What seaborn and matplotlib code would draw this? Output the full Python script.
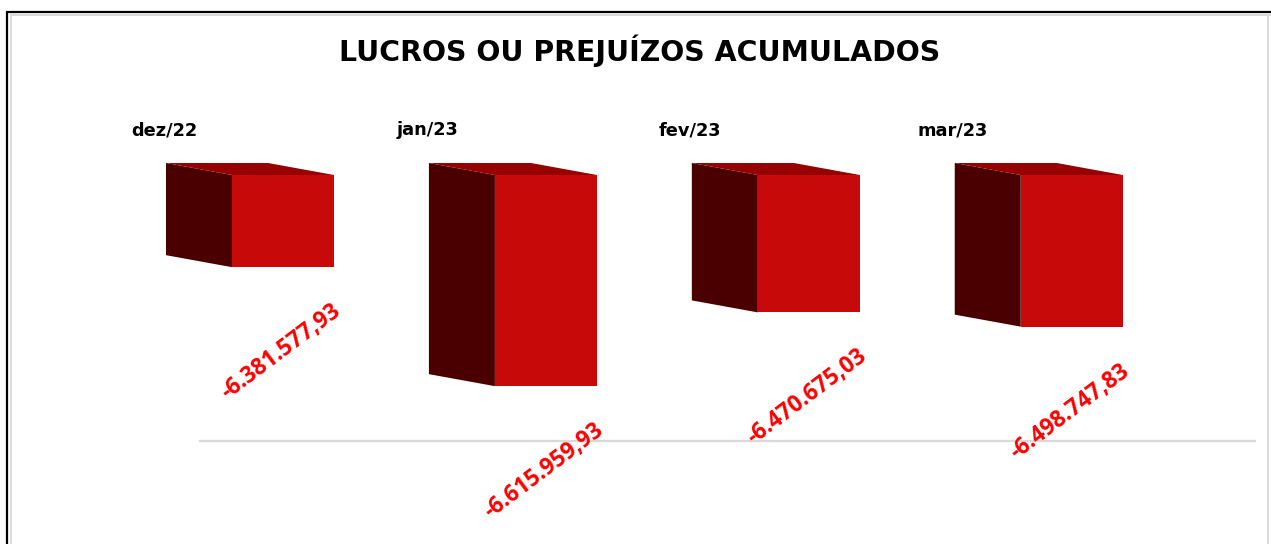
import numpy as np
import pandas as pd
import seaborn as sns
import matplotlib
matplotlib.use("Agg")
import matplotlib.pyplot as plt
from matplotlib.patches import Polygon
from matplotlib.lines import Line2D
from matplotlib.transforms import IdentityTransform, blended_transform_factory

# ---- data ----
categories = ["dez/22", "jan/23", "fev/23", "mar/23"]
values = [-6381577.93, -6615959.93, -6470675.03, -6498747.83]
title = "LUCROS OU PREJUÍZOS ACUMULADOS"
axis_top = -6200000
axis_bottom = -6724000


def br_fmt(v):
    s = f"{v:,.2f}"
    return s.replace(",", "X").replace(".", ",").replace("X", ".")


value_labels = [br_fmt(v) for v in values]

# ---- style ----
sns.set_theme(style="white")
plt.rcParams["font.family"] = ["DejaVu Sans"]

FRONT = "#C70909"
SIDE = "#4B0000"
TOP = "#960000"

W, H = 1271, 544
fig = plt.figure(figsize=(W / 100, H / 100), dpi=100)
fig.patch.set_facecolor("white")

ax = fig.add_axes([200 / W, (H - 441) / H, 1055 / W, 266 / H])
df = pd.DataFrame({"mes": categories, "valor": values})
sns.barplot(data=df, x="mes", y="valor", color=FRONT, saturation=1,
            width=0.388, ax=ax, edgecolor="none", linewidth=0)

ax.set_xlim(-0.3157, 3.697)
ax.set_ylim(axis_bottom, axis_top)
ax.set_xticks([])
ax.set_yticks([])
ax.set_xlabel("")
ax.set_ylabel("")
for s in ["top", "left", "right"]:
    ax.spines[s].set_visible(False)
ax.spines["bottom"].set_color("#D9D9D9")
ax.spines["bottom"].set_linewidth(1.6)
ax.set_facecolor("none")

# ---- pseudo-3D faces ----
depth = np.array([-66.0, 12.0])
for p in ax.patches:
    x0 = p.get_x()
    w = p.get_width()
    val = p.get_y() + p.get_height()
    TL = ax.transData.transform((x0, axis_top))
    TR = ax.transData.transform((x0 + w, axis_top))
    BL = ax.transData.transform((x0, val))
    side = [TL, TL + depth, BL + depth, BL]
    top = [TL, TL + depth, TR + depth, TR]
    fig.add_artist(Polygon(side, closed=True, transform=IdentityTransform(),
                           facecolor=SIDE, edgecolor="none", zorder=3))
    fig.add_artist(Polygon(top, closed=True, transform=IdentityTransform(),
                           facecolor=TOP, edgecolor="none", zorder=3))

# ---- category labels ----
blend = blended_transform_factory(ax.transData, ax.transAxes)
for i, cat in enumerate(categories):
    ax.text(i - 0.452, 1.169, cat, transform=blend, ha="center", va="center",
            fontsize=12.8, fontweight="bold", color="black", clip_on=False)

# ---- value labels ----
for i, (v, lab) in enumerate(zip(values, value_labels)):
    ax.annotate(lab, xy=(i, v), xytext=(-1.5, -61), textcoords="offset points",
                ha="center", va="center", rotation=37, rotation_mode="anchor",
                color="#FF0000", fontsize=16.3, fontweight="bold",
                family=["Open Sans", "DejaVu Sans"], annotation_clip=False)

# ---- title ----
fig.text(640 / W, 1 - 51 / H, title, ha="center", va="center",
         fontsize=20.4, fontweight="bold", color="black")

# ---- frame ----
def fline(x0, y0, x1, y1, color, lw):
    fig.add_artist(Line2D([x0 / W, x1 / W], [1 - y0 / H, 1 - y1 / H],
                          transform=fig.transFigure, color=color, lw=lw))

fline(7, 12, W, 12, "black", 1.6)
fline(7, 12, 7, H, "black", 1.6)
fline(10.5, 15, W, 15, "#D9D9D9", 1.4)
fline(10.5, 15, 10.5, H, "#D9D9D9", 1.4)
fline(1268, 15, 1268, H, "#D9D9D9", 1.4)

fig.savefig("out.png", dpi=100)
